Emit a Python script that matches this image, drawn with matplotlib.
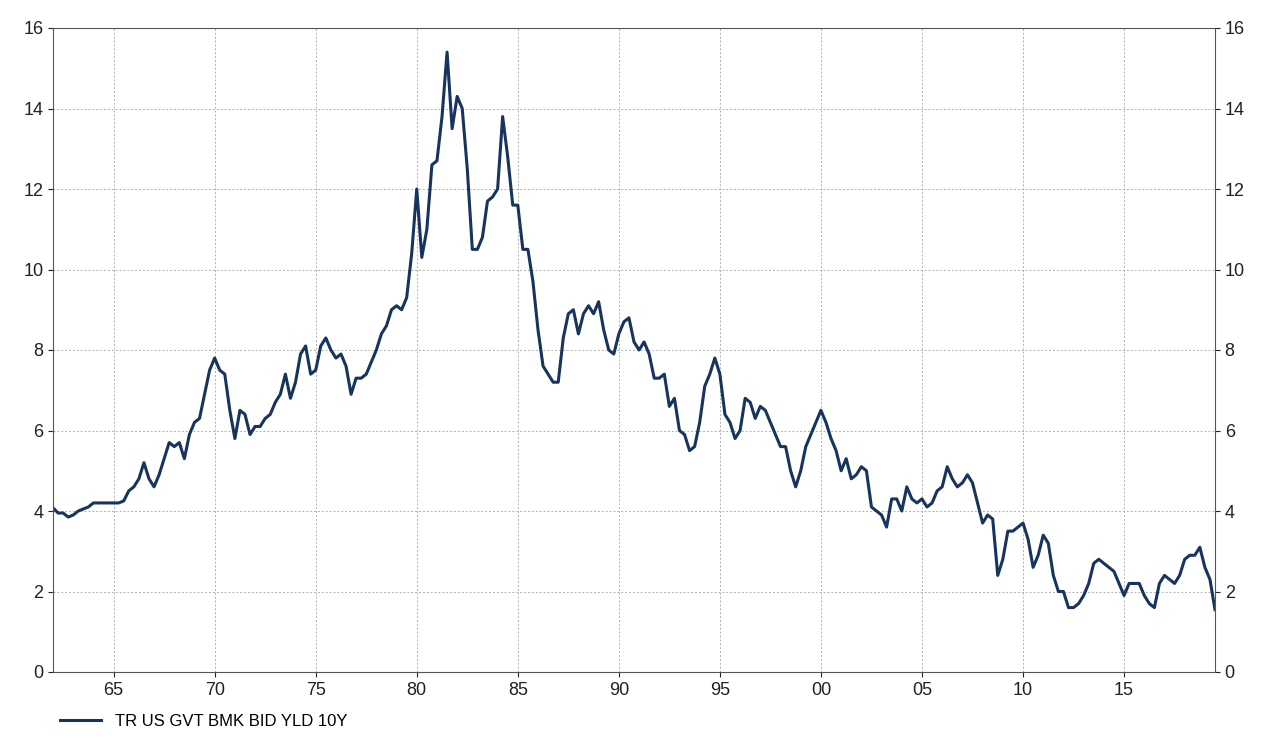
import matplotlib
matplotlib.use("Agg")
import matplotlib.pyplot as plt
import numpy as np

plt.rcParams["font.family"] = "Liberation Sans"

start_year = 1962
yields = [
4.08,3.95,3.95,3.85, 3.9,4.0,4.05,4.1, 4.2,4.2,4.2,4.2, 4.2,4.2,4.25,4.5,
4.6,4.8,5.2,4.8, 4.6,4.9,5.3,5.7, 5.6,5.7,5.3,5.9, 6.2,6.3,6.9,7.5,
7.8,7.5,7.4,6.5, 5.8,6.5,6.4,5.9, 6.1,6.1,6.3,6.4, 6.7,6.9,7.4,6.8,
7.2,7.9,8.1,7.4, 7.5,8.1,8.3,8.0, 7.8,7.9,7.6,6.9, 7.3,7.3,7.4,7.7,
8.0,8.4,8.6,9.0, 9.1,9.0,9.3,10.4, 12.0,10.3,11.0,12.6, 12.7,13.8,15.4,13.5,
14.3,14.0,12.5,10.5, 10.5,10.8,11.7,11.8, 12.0,13.8,12.8,11.6, 11.6,10.5,10.5,9.7,
8.5,7.6,7.4,7.2, 7.2,8.3,8.9,9.0, 8.4,8.9,9.1,8.9, 9.2,8.5,8.0,7.9,
8.4,8.7,8.8,8.2, 8.0,8.2,7.9,7.3, 7.3,7.4,6.6,6.8, 6.0,5.9,5.5,5.6,
6.2,7.1,7.4,7.8, 7.4,6.4,6.2,5.8, 6.0,6.8,6.7,6.3, 6.6,6.5,6.2,5.9,
5.6,5.6,5.0,4.6, 5.0,5.6,5.9,6.2, 6.5,6.2,5.8,5.5, 5.0,5.3,4.8,4.9,
5.1,5.0,4.1,4.0, 3.9,3.6,4.3,4.3, 4.0,4.6,4.3,4.2, 4.3,4.1,4.2,4.5,
4.6,5.1,4.8,4.6, 4.7,4.9,4.7,4.2, 3.7,3.9,3.8,2.4, 2.8,3.5,3.5,3.6,
3.7,3.3,2.6,2.9, 3.4,3.2,2.4,2.0, 2.0,1.6,1.6,1.7, 1.9,2.2,2.7,2.8,
2.7,2.6,2.5,2.2, 1.9,2.2,2.2,2.2, 1.9,1.7,1.6,2.2, 2.4,2.3,2.2,2.4,
2.8,2.9,2.9,3.1, 2.6,2.3,1.55,
]
tick_years = [1965,1970,1975,1980,1985,1990,1995,2000,2005,2010,2015]
tick_labels = ["65","70","75","80","85","90","95","00","05","10","15"]
series_name = "TR US GVT BMK BID YLD 10Y"

x = start_year + np.arange(len(yields)) * 0.25
color = "#17345f"

fig = plt.figure(figsize=(12.64, 7.42), dpi=100)
ax = fig.add_axes([53/1264, 1-672/742, (1215-53)/1264, (672-28)/742])
ax.plot(x, yields, color=color, lw=2.2, label=series_name)
ax.set_xlim(1962, 2019.5)
ax.set_ylim(0, 16)
ax.set_yticks(range(0, 17, 2))
ax.set_xticks(tick_years)
ax.set_xticklabels(tick_labels)
ax.grid(True, color="#b0b0b0", linestyle=(0, (2, 2)), lw=0.7)
ax.tick_params(labelsize=13, colors="#222222", right=True, labelright=True)
for s in ax.spines.values():
    s.set_color("#555555")
ax.legend(loc="upper left", bbox_to_anchor=(0.0, -0.055), frameon=False,
          fontsize=12, handlelength=2.5, borderaxespad=0)
fig.savefig("out.png", dpi=100)
